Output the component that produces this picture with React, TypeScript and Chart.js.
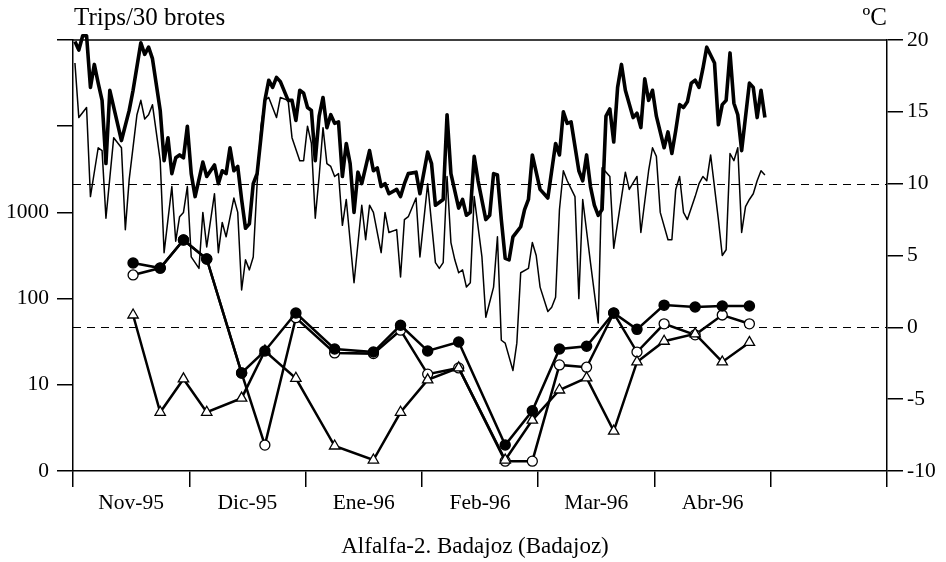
import React, { useEffect, useRef } from "react";
import { Chart, registerables } from "chart.js";

Chart.register(...registerables);

// ---- x axis: days of the season (day 1 = 1 Nov 1995), 7 equal month slots of 30 days
const monthLabels = ["Nov-95", "Dic-95", "Ene-96", "Feb-96", "Mar-96", "Abr-96"];
const monthSlots = 7;
const daysPerSlot = 30;
const xMin = 0.5;
const xMax = xMin + monthSlots * daysPerSlot;

// ---- left (log) axis
const leftTickValues = [1, 10, 100, 1000, 10000, 100000];
const leftTickLabels = ["0", "10", "100", "1000", "", ""];

// ---- right axis (temperature, ºC)
const tempMin = -10;
const tempMax = 20;
const tempStep = 5;
const refLevels = [10, 0];

// ---- daily maximum temperature (thick line)
const tMaxDays = [
  1, 2, 3, 4, 5, 6, 7, 8, 9, 10, 13, 15, 16, 18, 19, 20, 21, 23, 24, 25, 26, 27, 28, 29, 30, 31, 32, 34, 35,
  37, 38, 39, 40, 41, 42, 43, 44, 45, 46, 47, 48, 50, 51, 52, 53, 54, 56, 57, 58, 59, 60, 61, 62, 63, 64, 65,
  66, 67, 68, 69, 70, 71, 72, 73, 74, 75, 77, 78, 79, 80, 81, 82, 84, 85, 86, 87, 89, 90, 92, 93, 94, 96, 97,
  98, 100, 101, 102, 103, 104, 105, 107, 108, 109, 110, 111, 112, 113, 114, 116, 117, 118, 119, 121, 123, 125,
  126, 127, 128, 129, 131, 132, 133, 134, 135, 136, 137, 138, 139, 140, 141, 142, 143, 145, 146, 147, 148, 149,
  150, 151, 153, 154, 155, 156, 157, 158, 159, 160, 161, 162, 163, 164, 166, 167, 168, 169, 170, 171, 172, 173,
  175, 176, 177, 178, 179,
];
const tMaxValues = [
  19.9, 19.3, 20.3, 20.3, 16.7, 18.3, 17.0, 15.8, 11.4, 16.5, 13.0, 15.1, 16.5, 19.8, 19.0, 19.5, 18.7, 15.1,
  11.6, 13.2, 10.7, 11.8, 12.0, 11.8, 14.0, 10.7, 9.1, 11.5, 10.5, 11.3, 10.0, 10.9, 10.7, 12.5, 10.9, 11.2, 8.9,
  6.9, 7.2, 10.0, 10.7, 15.8, 17.2, 16.7, 17.4, 17.1, 15.8, 15.8, 14.4, 16.5, 16.3, 15.3, 15.1, 11.6, 14.7, 16.0,
  13.9, 14.8, 14.2, 14.3, 10.5, 12.8, 11.4, 8.0, 10.8, 10.0, 12.3, 10.9, 11.1, 9.8, 10.0, 9.3, 9.6, 9.1, 10.0,
  10.7, 10.8, 9.3, 12.2, 11.4, 8.5, 8.9, 14.8, 10.7, 8.3, 8.9, 7.8, 8.0, 11.9, 10.2, 7.5, 7.8, 10.7, 10.6, 7.5,
  4.8, 4.7, 6.3, 7.0, 8.2, 8.9, 12.0, 9.6, 9.0, 12.8, 12.0, 15.0, 14.2, 14.3, 10.9, 10.2, 12.0, 9.8, 8.5, 7.8,
  8.2, 14.7, 15.2, 12.9, 16.7, 18.3, 16.5, 14.6, 14.9, 13.9, 17.3, 15.8, 16.5, 14.7, 12.5, 13.6, 12.1, 13.7,
  15.5, 15.3, 15.7, 17.0, 17.2, 16.7, 18.0, 19.5, 18.4, 14.1, 15.5, 15.8, 19.1, 15.6, 14.8, 12.3, 17.0, 16.7,
  14.6, 16.5, 14.6,
];

// ---- daily minimum temperature (thin line)
const tMinDays = [
  1, 2, 4, 5, 7, 8, 9, 11, 13, 14, 15, 17, 18, 19, 20, 21, 23, 24, 26, 27, 28, 29, 30, 31, 33, 34, 35, 37, 38,
  39, 40, 42, 43, 44, 45, 46, 47, 48, 49, 50, 51, 53, 54, 56, 57, 59, 60, 61, 62, 63, 64, 65, 66, 67, 68, 69,
  70, 71, 73, 75, 76, 77, 78, 80, 81, 82, 84, 85, 86, 87, 89, 90, 92, 94, 95, 96, 97, 98, 99, 100, 101, 102,
  103, 104, 106, 107, 109, 110, 111, 112, 114, 115, 116, 118, 119, 120, 121, 123, 124, 125, 126, 127, 128, 130,
  131, 132, 134, 136, 137, 139, 140, 143, 144, 146, 147, 149, 150, 151, 152, 154, 155, 156, 157, 158, 159, 161,
  162, 163, 164, 165, 167, 168, 169, 170, 171, 172, 173, 174, 175, 176, 177, 178, 179,
];
const tMinValues = [
  18.4, 14.6, 15.3, 9.1, 12.5, 12.3, 7.6, 13.2, 12.5, 6.8, 10.3, 14.8, 15.8, 14.5, 14.8, 15.5, 11.6, 5.2, 9.8,
  6.0, 7.7, 8.0, 9.8, 4.9, 4.1, 8.0, 5.6, 9.3, 5.2, 7.3, 6.3, 9.0, 8.0, 2.6, 4.7, 4.0, 4.9, 10.0, 14.0, 15.8,
  16.0, 14.6, 16.0, 15.8, 13.2, 11.6, 11.6, 14.0, 12.8, 7.6, 10.5, 13.9, 11.4, 11.2, 10.5, 10.7, 7.1, 8.9, 3.1,
  8.5, 6.1, 8.5, 8.0, 5.2, 8.0, 6.6, 6.8, 3.5, 7.5, 7.7, 9.0, 4.9, 10.0, 4.5, 4.1, 4.5, 10.5, 5.9, 4.7, 3.8, 4.0,
  2.8, 3.1, 9.1, 4.9, 0.7, 2.8, 6.3, -0.9, -1.1, -3.0, -1.1, 3.8, 4.1, 5.9, 5.0, 2.8, 1.1, 1.4, 2.1, 8.2, 10.9,
  10.2, 9.1, 2.0, 8.9, 4.5, 0.3, 11.1, 10.5, 5.5, 10.8, 9.6, 10.5, 6.6, 10.9, 12.5, 11.9, 8.0, 6.1, 6.1, 9.6,
  10.5, 8.0, 7.5, 9.1, 10.0, 10.5, 10.2, 12.0, 7.5, 5.0, 5.4, 12.1, 11.6, 12.5, 6.6, 8.4, 8.9, 9.3, 10.2, 10.9,
  10.6,
];

// ---- thrips counts per 30 shoots (sampling days)
const sampleDays = [16, 23, 29, 35, 44, 50, 58, 68, 78, 85, 92, 100, 112, 119, 126, 133, 140, 146, 153, 161, 168, 175];
const seriesFilled = [259, 226, 479, 288, 13.7, 24.7, 68, 26, 24, 49, 24.7, 31.4, 2.0, 5.0, 26, 28, 68, 44, 84, 80, 82, 82];
const seriesOpen = [188, 226, 479, 288, 13.7, 2.0, 60, 23.4, 23, 43, 13.3, 15.7, 1.3, 1.3, 17, 16, 68, 24, 51, 38, 64.5, 51];
const seriesTriangle = [64.5, 4.8, 11.7, 4.8, 7.0, 24.7, 11.9, 1.95, 1.34, 4.8, 11.4, 15.7, 1.34, 3.9, 8.7, 12, 2.9, 18.4, 32, 39, 18.4, 31];

const leftTitle = "Trips/30 brotes";
const rightTitle = "ºC";
const bottomTitle = "Alfalfa-2. Badajoz (Badajoz)";

const FONT_FAMILY = '"Liberation Serif", "Times New Roman", Times, serif';

const pairs = (xs: number[], ys: number[]) => xs.map((x, i) => ({ x, y: ys[i] }));

const overlayPlugin = {
  id: "overlay",
  beforeDatasetsDraw(chart: any) {
    const { ctx, chartArea, scales } = chart;
    ctx.save();
    ctx.strokeStyle = "#000";
    ctx.lineWidth = 1.2;
    ctx.setLineDash([8, 6]);
    for (const lv of refLevels) {
      const y = Math.round(scales.yT.getPixelForValue(lv)) + 0.5;
      ctx.beginPath();
      ctx.moveTo(chartArea.left, y);
      ctx.lineTo(chartArea.right, y);
      ctx.stroke();
    }
    ctx.restore();
  },
  afterDraw(chart: any) {
    const { ctx, chartArea } = chart;
    ctx.save();
    ctx.strokeStyle = "#000";
    ctx.lineWidth = 1.5;
    ctx.beginPath();
    ctx.moveTo(chartArea.left, chartArea.top);
    ctx.lineTo(chartArea.right, chartArea.top);
    ctx.stroke();
    ctx.fillStyle = "#000";
    ctx.textBaseline = "alphabetic";
    ctx.font = `25px ${FONT_FAMILY}`;
    ctx.textAlign = "left";
    ctx.fillText(leftTitle, chartArea.left + 1, 25);
    ctx.textAlign = "right";
    ctx.fillText(rightTitle, chartArea.right, 25);
    ctx.font = `23px ${FONT_FAMILY}`;
    ctx.textAlign = "center";
    ctx.fillText(bottomTitle, (chartArea.left + chartArea.right) / 2 - 5, 553);
    ctx.restore();
  },
};

export default function App() {
  const canvasRef = useRef<HTMLCanvasElement | null>(null);

  useEffect(() => {
    if (!canvasRef.current) return;
    const tickFont = { family: FONT_FAMILY, size: 21.5 };
    const axisGrid = { drawOnChartArea: false, drawTicks: true, tickLength: 16, color: "#000", lineWidth: 1.5 };
    const axisBorder = { display: true, color: "#000", width: 1.5 };
    const boundaryTicks = Array.from({ length: monthSlots + 1 }, (_, i) => xMin + i * daysPerSlot);
    const midTicks = monthLabels.map((_, i) => xMin + i * daysPerSlot + daysPerSlot / 2);

    const chart = new Chart(canvasRef.current, {
      type: "line",
      data: {
        datasets: [
          {
            label: "Serie 1",
            data: pairs(sampleDays, seriesFilled),
            xAxisID: "x",
            yAxisID: "y",
            borderColor: "#000",
            borderWidth: 2.5,
            pointStyle: "circle",
            pointRadius: 5,
            pointBackgroundColor: "#000",
            pointBorderColor: "#000",
            pointBorderWidth: 1.5,
            order: 0,
          },
          {
            label: "Serie 3",
            data: pairs(sampleDays, seriesTriangle),
            xAxisID: "x",
            yAxisID: "y",
            borderColor: "#000",
            borderWidth: 2.5,
            pointStyle: "triangle",
            pointRadius: 6,
            pointBackgroundColor: "#fff",
            pointBorderColor: "#000",
            pointBorderWidth: 1.3,
            order: 1,
          },
          {
            label: "Serie 2",
            data: pairs(sampleDays, seriesOpen),
            xAxisID: "x",
            yAxisID: "y",
            borderColor: "#000",
            borderWidth: 2.5,
            pointStyle: "circle",
            pointRadius: 5,
            pointBackgroundColor: "#fff",
            pointBorderColor: "#000",
            pointBorderWidth: 1.3,
            order: 2,
          },
          {
            label: "Tª máxima",
            data: pairs(tMaxDays, tMaxValues),
            xAxisID: "x",
            yAxisID: "yT",
            borderColor: "#000",
            borderWidth: 3.6,
            borderJoinStyle: "round",
            pointRadius: 0,
            clip: false,
            order: 3,
          },
          {
            label: "Tª mínima",
            data: pairs(tMinDays, tMinValues),
            xAxisID: "x",
            yAxisID: "yT",
            borderColor: "#000",
            borderWidth: 1.5,
            borderJoinStyle: "round",
            pointRadius: 0,
            order: 4,
          },
        ],
      },
      options: {
        responsive: false,
        animation: false,
        events: [],
        layout: { padding: { top: 40, left: 0, right: 0, bottom: 0 } },
        plugins: { legend: { display: false }, tooltip: { enabled: false }, title: { display: false } },
        scales: {
          x: {
            type: "linear",
            position: "bottom",
            min: xMin,
            max: xMax,
            weight: 0,
            afterBuildTicks: (s: any) => {
              s.ticks = boundaryTicks.map((v) => ({ value: v }));
            },
            afterFit: (s: any) => {
              s.height = 16;
            },
            ticks: { display: false },
            grid: axisGrid,
            border: axisBorder,
          },
          xl: {
            type: "linear",
            position: "bottom",
            min: xMin,
            max: xMax,
            weight: 1,
            afterBuildTicks: (s: any) => {
              s.ticks = midTicks.map((v) => ({ value: v }));
            },
            afterFit: (s: any) => {
              s.height = 75;
            },
            ticks: {
              display: true,
              autoSkip: false,
              maxRotation: 0,
              padding: 3,
              color: "#000",
              font: tickFont,
              callback: (_v: any, i: number) => monthLabels[i],
            },
            grid: { display: false, drawTicks: false },
            border: { display: false },
          },
          y: {
            type: "logarithmic",
            position: "left",
            min: leftTickValues[0],
            max: leftTickValues[leftTickValues.length - 1],
            afterBuildTicks: (s: any) => {
              s.ticks = leftTickValues.map((v) => ({ value: v }));
            },
            afterFit: (s: any) => {
              s.width = 73;
            },
            ticks: {
              autoSkip: false,
              padding: 8,
              color: "#000",
              font: tickFont,
              callback: (_v: any, i: number) => leftTickLabels[i],
            },
            grid: axisGrid,
            border: axisBorder,
          },
          yT: {
            type: "linear",
            position: "right",
            min: tempMin,
            max: tempMax,
            afterFit: (s: any) => {
              s.width = 59;
            },
            ticks: { stepSize: tempStep, padding: 4, color: "#000", font: tickFont },
            grid: axisGrid,
            border: axisBorder,
          },
        },
      },
      plugins: [overlayPlugin],
    } as any);

    return () => chart.destroy();
  }, []);

  return (
    <div style={{ position: "fixed", left: 0, top: 0, width: 946, height: 562, background: "#fff" }}>
      <canvas ref={canvasRef} width={946} height={562} style={{ display: "block" }} />
    </div>
  );
}
